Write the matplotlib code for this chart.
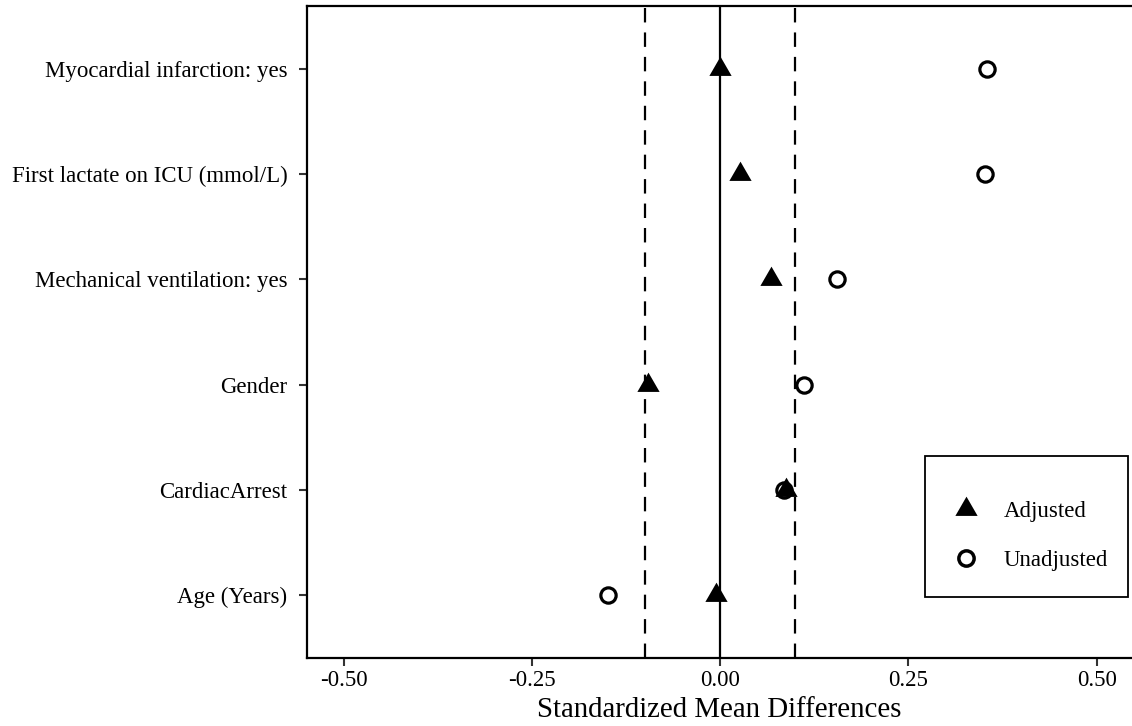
import matplotlib
matplotlib.use("Agg")
import matplotlib.pyplot as plt
from matplotlib.path import Path
from matplotlib.lines import Line2D
from matplotlib.patches import Rectangle

plt.rcParams['font.family'] = ['Liberation Serif', 'DejaVu Serif']

covariates = ["Age (Years)", "CardiacArrest", "Gender",
              "Mechanical ventilation: yes", "First lactate on ICU (mmol/L)",
              "Myocardial infarction: yes"]
adjusted = [-0.005, 0.088, -0.096, 0.067, 0.027, 0.000]
unadjusted = [-0.149, 0.085, 0.112, 0.155, 0.352, 0.355]
xticks = [-0.50, -0.25, 0.00, 0.25, 0.50]
xtick_labels = ["-0.50", "-0.25", "0.00", "0.25", "0.50"]
threshold = 0.1

tri = Path([(-1.0, -0.577), (1.0, -0.577), (0.0, 1.155), (-1.0, -0.577)],
           [Path.MOVETO, Path.LINETO, Path.LINETO, Path.CLOSEPOLY])

W, H = 1132, 726
AX_L, AX_R, AX_T, AX_B = 307, 1132, 6, 658
fig = plt.figure(figsize=(W / 100, H / 100), dpi=100)
ax = fig.add_axes([AX_L / W, (H - AX_B) / H, (AX_R - AX_L) / W, (AX_B - AX_T) / H])


def ax_x(px):
    return (px - AX_L) / (AX_R - AX_L)


def ax_y(py):
    return (AX_B - py) / (AX_B - AX_T)


ypos = list(range(1, len(covariates) + 1))

ax.axvline(0, color='black', lw=1.6, zorder=1)
for t in (-threshold, threshold):
    ax.axvline(t, color='black', lw=1.6, linestyle=(0, (6.5, 4.5)), zorder=1)

ax.plot(unadjusted, ypos, linestyle='none', marker='o', markersize=11,
        markerfacecolor='none', markeredgecolor='black', markeredgewidth=2.3,
        zorder=3, label='Unadjusted')
ax.plot(adjusted, ypos, linestyle='none', marker=tri, markersize=18.5,
        color='black', markeredgewidth=0, zorder=4, label='Adjusted')

ax.set_xlim(-0.5485, 0.547)
ax.set_ylim(0.4, 6.6)
ax.set_yticks(ypos)
ax.set_yticklabels(covariates)
ax.set_xticks(xticks)
ax.set_xticklabels(xtick_labels)
ax.tick_params(axis='both', labelsize=16.5, length=6, width=1.5,
               color='#333333', labelcolor='black')
ax.tick_params(axis='y', pad=8)
ax.tick_params(axis='x', pad=2.5)
ax.set_xlabel("Standardized Mean Differences", fontsize=20.8, labelpad=4.5)

for side in ('left', 'bottom', 'top'):
    ax.spines[side].set_linewidth(1.6)
    ax.spines[side].set_color('black')
ax.spines['right'].set_visible(False)

# legend frame
x0, x1 = ax_x(925), ax_x(1128)
y0, y1 = ax_y(597), ax_y(456)
ax.add_patch(Rectangle((x0, y0), x1 - x0, y1 - y0, transform=ax.transAxes,
                       facecolor='white', edgecolor='black', lw=1.3,
                       zorder=5, clip_on=False))

handles = [
    Line2D([], [], linestyle='none', marker=tri, markersize=18.5, color='black',
           markeredgewidth=0),
    Line2D([], [], linestyle='none', marker='o', markersize=11,
           markerfacecolor='none', markeredgecolor='black', markeredgewidth=2.5),
]
leg = ax.legend(handles, ['Adjusted', 'Unadjusted'], loc='center left',
                bbox_to_anchor=(ax_x(951), ax_y(536)),
                frameon=False, fontsize=16.5, borderpad=0,
                labelspacing=1.2, handletextpad=1.0, handlelength=1.3,
                borderaxespad=0)
leg.set_zorder(6)

fig.savefig("out.png", dpi=100)
